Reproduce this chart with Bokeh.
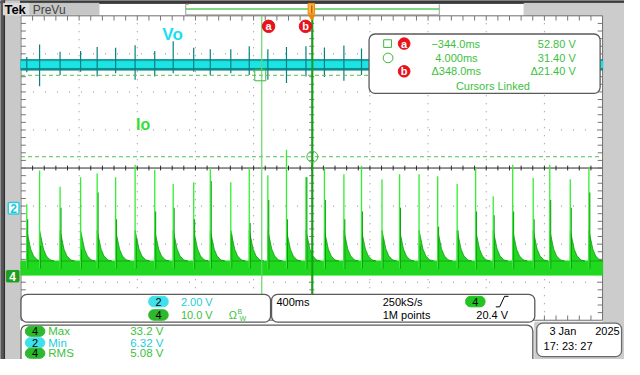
from bokeh.plotting import figure
from bokeh.models import Range1d, BoxAnnotation, Label
from bokeh.embed import file_html
from bokeh.resources import INLINE

# ---------------- values read from the screen ----------------
# channel 4 (Io, 10 V/div): spike times [ms], spike peaks [V], secondary (dark) peak [V]
spike_t_ms = [-1960, -1872, -1731, -1590, -1476, -1349, -1215, -1080, -953, -812,
              -698, -557, -430, -302, -174, -40, 87, 221, 342, 483,
              604, 738, 866, 1000, 1127, 1248, 1382, 1523, 1637, 1778, 1906]
io_peak_v = [18.9, 27.8, 23.5, 26.0, 27.0, 26.0, 29.3, 28.0, 24.2, 24.7,
             28.5, 24.7, 28.3, 26.5, 33.2, 26.0, 28.5, 26.8, 29.0, 25.5,
             26.8, 26.8, 26.3, 24.2, 28.5, 21.0, 29.3, 25.8, 29.3, 25.5, 28.5]
io_second_v = [15, 8, 18, 7, 22, 15, 10, 17, 18, 15,
               25, 11, 14, 20, 15, 26, 20, 15, 17, 10,
               18, 8, 13, 12, 17, 16, 17, 15, 20, 18, 22]
io_band_v = [0.3, 4.0]                    # noise band of Io between pulses
tail_dt_ms = [0, 9, 27, 47, 72, 100]      # decay after each pulse
tail_v = [12.0, 10.4, 7.1, 5.3, 4.3, 4.0]

# channel 2 (Vo, 2 V/div): band and spike extremes at the same instants
vo_band_v = [7.26, 7.81]
vo_core_v = [7.40, 7.73]
vo_spike_hi = [7.95, 8.60, 8.23, 8.27, 8.47, 8.43, 8.57, 8.27, 8.77, 8.43, 8.35,
               8.35, 8.52, 8.35, 8.47, 8.52, 8.45, 8.55, 8.40, 8.30, 8.50, 8.40,
               8.35, 8.45, 8.30, 8.50, 8.40, 8.35, 8.45, 8.40, 8.30]
vo_spike_lo = [7.15, 6.41, 7.00, 7.17, 6.92, 7.09, 6.75, 6.92, 7.09, 7.17, 7.00,
               7.09, 7.00, 6.75, 6.58, 6.92, 6.90, 6.70, 7.00, 6.90, 7.00, 6.85,
               6.95, 7.05, 6.90, 7.00, 6.80, 6.95, 7.00, 6.90, 6.95]

# cursors (linked, on channel 4)
cursor_t_ms = [-344.0, 4.0]
cursor_v = [52.80, 31.40]

# scope settings / readouts
time_per_div_ms = 400
ch2_v_per_div = 2.0
ch4_v_per_div = 10.0
readout_rows = [("\u2212344.0ms", "52.80 V"), ("4.000ms", "31.40 V"), ("\u0394348.0ms", "\u039421.40 V")]
meas_rows = [("4", "Max", "33.2 V"), ("2", "Min", "6.32 V"), ("4", "RMS", "5.08 V")]

# ---------------- screen geometry (pixels of the 640x375 screen) ----------------
GX0, GX1 = 21.0, 617.5
GY0, GY1 = 16.0, 334.0
DX = (GX1 - GX0) / 10.0
DY = (GY1 - GY0) / 8.0
XC = (GX0 + GX1) / 2.0
YC = (GY0 + GY1) / 2.0
CH2_GND, CH4_GND = 217.0, 288.0


def t_of(px):
    return (px - XC) / DX * time_per_div_ms


def v2_of(py):
    return (CH2_GND - py) / DY * ch2_v_per_div


def v4_of(py):
    return (CH4_GND - py) / DY * ch4_v_per_div


def d_of(py):
    return (YC - py) / DY


L, R, T, B = 0, 640, 0, 375
p = figure(width=624, height=359, x_range=Range1d(L, R), y_range=Range1d(B, T),
           output_backend="svg", toolbar_location=None, min_border=0,
           x_axis_type=None, y_axis_type=None)
p.outline_line_color = None
p.grid.visible = False
p.background_fill_color = "white"
p.border_fill_color = "white"
p.extra_x_ranges = {"t": Range1d(t_of(L), t_of(R))}
p.extra_y_ranges = {"ch2": Range1d(v2_of(B), v2_of(T)),
                    "ch4": Range1d(v4_of(B), v4_of(T)),
                    "div": Range1d(d_of(B), d_of(T))}

FONT = "Liberation Sans"
GREEN_TXT = "#3cbf3c"
CYAN_TXT = "#1ccbd8"
RED = "#e8121c"

# ---------------- chrome ----------------
p.quad(left=[0], right=[640], top=[0], bottom=[3], color="#3a3a3a")
p.quad(left=[0, 4, 5], right=[4, 5, 19.5], top=[0, 0, 0], bottom=[375, 375, 375],
       color=["#555555", "#1a1a1a", "#c9c9c9"])
p.quad(left=[3], right=[30], top=[3], bottom=[15], color="#dcdcdc")
p.quad(left=[30], right=[101], top=[3], bottom=[15], color="#c6c6c6")
p.quad(left=[537], right=[640], top=[3], bottom=[15.5], color="#cccccc")
p.quad(left=[GX1 + 0.5], right=[640], top=[15.5], bottom=[336], color="#cccccc")
p.quad(left=[548], right=[640], top=[336], bottom=[375], color="#cccccc")
# record view
p.segment(x0=[190], y0=[9], x1=[450], y1=[9], line_color="#55cc55", line_width=1.5)
p.segment(x0=[190, 450, 190, 190], y0=[4, 4, 4, 15], x1=[190, 450, 193, 450], y1=[15, 15, 4, 15],
          line_color="#9a9a9a", line_width=1)

# ---------------- graticule ----------------
tmin, tmax = -5 * time_per_div_ms, 5 * time_per_div_ms
vx = [tmin + k * time_per_div_ms for k in range(1, 10) if k != 5]
p.segment(x0=vx, y0=[-4] * len(vx), x1=vx, y1=[4] * len(vx), x_range_name="t", y_range_name="div",
          line_color="#8c8c8c", line_dash="1 7", line_width=1)
hy = [k for k in range(-3, 4) if k != 0]
p.segment(x0=[tmin] * len(hy), y0=hy, x1=[tmax] * len(hy), y1=hy, x_range_name="t", y_range_name="div",
          line_color="#8c8c8c", line_dash="1 11", line_width=1)
p.segment(x0=[tmin], y0=[0], x1=[tmax], y1=[0], x_range_name="t", y_range_name="div",
          line_color="#2a2a2a", line_width=1)
p.segment(x0=[0], y0=[-4], x1=[0], y1=[4], x_range_name="t", y_range_name="div",
          line_color="#9a9a9a", line_width=1)
tick_t = [tmin + k * time_per_div_ms / 5 for k in range(1, 50)]
tick_d = [-4 + k * 0.2 for k in range(1, 40)]
ht = 2.5 / DY      # tick half length in div
hx = 2.5 / DX * time_per_div_ms
p.segment(x0=tick_t, y0=[-ht] * len(tick_t), x1=tick_t, y1=[ht] * len(tick_t),
          x_range_name="t", y_range_name="div", line_color="#2a2a2a")
p.segment(x0=tick_t, y0=[4] * len(tick_t), x1=tick_t, y1=[4 - 2 * ht] * len(tick_t),
          x_range_name="t", y_range_name="div", line_color="#777777")
p.segment(x0=tick_t, y0=[-4] * len(tick_t), x1=tick_t, y1=[-4 + 2 * ht] * len(tick_t),
          x_range_name="t", y_range_name="div", line_color="#777777")
p.segment(x0=[-hx] * len(tick_d), y0=tick_d, x1=[hx] * len(tick_d), y1=tick_d,
          x_range_name="t", y_range_name="div", line_color="#777777")
p.segment(x0=[tmin] * len(tick_d), y0=tick_d, x1=[tmin + 2 * hx] * len(tick_d), y1=tick_d,
          x_range_name="t", y_range_name="div", line_color="#777777")
p.segment(x0=[tmax] * len(tick_d), y0=tick_d, x1=[tmax - 2 * hx] * len(tick_d), y1=tick_d,
          x_range_name="t", y_range_name="div", line_color="#777777")
p.quad(left=[tmin], right=[tmax], bottom=[-4], top=[4], x_range_name="t", y_range_name="div",
       fill_color=None, line_color="#6e6e6e", line_width=1)

# ---------------- channel 2 : Vo ----------------
p.quad(left=[tmin], right=[tmax], bottom=[vo_band_v[0]], top=[vo_band_v[1]],
       x_range_name="t", y_range_name="ch2", color="#0b8e8e")
p.quad(left=[tmin], right=[tmax], bottom=[vo_core_v[0]], top=[vo_core_v[1]],
       x_range_name="t", y_range_name="ch2", color="#1ee3e3")
p.segment(x0=spike_t_ms, y0=vo_spike_lo, x1=spike_t_ms, y1=vo_spike_hi,
          x_range_name="t", y_range_name="ch2", line_color="#0a7f7f", line_width=1.2)

# ---------------- channel 4 : Io ----------------
p.quad(left=[tmin], right=[tmax], bottom=[io_band_v[0]], top=[io_band_v[1]],
       x_range_name="t", y_range_name="ch4", color="#1fd81f")
xs, ys = [], []
for t0 in spike_t_ms:
    xs.append([t0] + [min(t0 + d, tmax) for d in tail_dt_ms] + [min(t0 + tail_dt_ms[-1], tmax)])
    ys.append([io_band_v[1]] + tail_v + [io_band_v[1]])
p.patches(xs=xs, ys=ys, x_range_name="t", y_range_name="ch4",
          fill_color="#22d822", line_color="#119a11", line_width=0.8)
base = [2.0] * len(spike_t_ms)
p.segment(x0=[t + 5 for t in spike_t_ms], y0=base, x1=[t + 5 for t in spike_t_ms], y1=io_second_v,
          x_range_name="t", y_range_name="ch4", line_color="#0b8a0b", line_width=1.4)
p.segment(x0=spike_t_ms, y0=base, x1=spike_t_ms, y1=io_peak_v,
          x_range_name="t", y_range_name="ch4", line_color="#33ee33", line_width=1.3)

# ---------------- cursors ----------------
p.segment(x0=[tmin, tmin], y0=cursor_v, x1=[tmax, tmax], y1=cursor_v,
          x_range_name="t", y_range_name="ch4", line_color="#4cc44c", line_dash="4 3", line_width=1)
p.segment(x0=[cursor_t_ms[0]], y0=[4], x1=[cursor_t_ms[0]], y1=[d_of(307)],
          x_range_name="t", y_range_name="div", line_color="#6ad86a", line_width=1.2)
p.segment(x0=[cursor_t_ms[1]], y0=[4], x1=[cursor_t_ms[1]], y1=[d_of(307)],
          x_range_name="t", y_range_name="div", line_color="#16a016", line_width=2)
p.scatter(x=[cursor_t_ms[0] - 1.5 / DX * time_per_div_ms], y=[cursor_v[0]], marker="square", size=11,
          x_range_name="t", y_range_name="ch4", fill_color=None, line_color="#3cb83c", line_width=1)
p.scatter(x=[cursor_t_ms[1]], y=[cursor_v[1]], marker="circle", size=11,
          x_range_name="t", y_range_name="ch4", fill_color=None, line_color="#3cb83c", line_width=1)
off = 7.0 / DX * time_per_div_ms
lab_t = [cursor_t_ms[0] + off, cursor_t_ms[1] - off]
p.scatter(x=lab_t, y=[d_of(27)] * 2, marker="circle", size=12.5, x_range_name="t", y_range_name="div",
          fill_color=RED, line_color=RED)
for tt, s in zip(lab_t, ["a", "b"]):
    p.add_layout(Label(x=tt, y=d_of(27), x_range_name="t", y_range_name="div", text=s,
                       text_align="center", text_baseline="middle", text_color="white",
                       text_font=FONT, text_font_size="11px", text_font_style="bold"))
# trigger position marker
p.quad(left=[t_of(315.5)], right=[t_of(322)], top=[d_of(3)], bottom=[d_of(14)],
       x_range_name="t", y_range_name="div", fill_color="#ffb347", line_color="#ee8800", line_width=1)
p.segment(x0=[0], y0=[d_of(5)], x1=[0], y1=[d_of(13)], x_range_name="t", y_range_name="div",
          line_color="#cc6600", line_width=1.5)
p.scatter(x=[0], y=[d_of(17)], marker="inverted_triangle", size=6, x_range_name="t", y_range_name="div",
          color="#ee8800")


def box(l, r, t, b, fill="white", line="#5a5a5a", radius=6, lw=1.3, falpha=1.0):
    p.add_layout(BoxAnnotation(left=l, right=r, top=t, bottom=b, fill_color=fill, fill_alpha=falpha,
                               line_color=line, line_alpha=1, line_width=lw, border_radius=radius))


def text(x, y, s, color="black", size="11px", align="left", style="normal"):
    p.add_layout(Label(x=x, y=y, text=s, text_align=align, text_baseline="middle", text_color=color,
                       text_font=FONT, text_font_size=size, text_font_style=style))


def pill(cx, cy, s, fill, color="black", w=20, h=11):
    box(cx - w / 2, cx + w / 2, cy - h / 2, cy + h / 2, fill=fill, line=fill, radius=5, lw=1)
    text(cx, cy, s, color=color, align="center")


# ground markers
box(8, 19, CH2_GND - 6, CH2_GND + 6, fill="white", line="#22cfe0", radius=1, lw=1.5)
text(13.5, CH2_GND, "2", color="#1cc8d8", size="12px", align="center", style="bold")
box(6, 19, CH4_GND - 6, CH4_GND + 6, fill="#1f9f1f", line="#1f9f1f", radius=1, lw=1)
text(12.5, CH4_GND, "4", color="white", size="12px", align="center", style="bold")

# channel names
text(166, 35, "Vo", color="#19e0ee", size="17px", style="bold")
text(139, 130, "Io", color="#35dd35", size="16px", style="bold")

# top bar texts
text(4, 9.5, "Tek", size="13px", style="bold")
text(33, 9.5, "PreVu", color="#444444", size="12px")

# cursor readout box
box(378, 615, 35, 97)
box(393, 401, 41, 49, fill="white", line="#3cb83c", radius=0, lw=1, falpha=0.0)
box(392.5, 402.5, 55, 65, fill="white", line="#3cb83c", radius=5, lw=1, falpha=0.0)
box(408, 420, 39, 51, fill=RED, line=RED, radius=6, lw=1)
box(408, 420, 68, 80, fill=RED, line=RED, radius=6, lw=1)
text(414, 45, "a", color="white", align="center", style="bold")
text(414, 74, "b", color="white", align="center", style="bold")
for (tt, vv), yy, xx in zip(readout_rows, [45, 60, 74], [442, 446, 442]):
    text(xx, yy, tt, color=GREEN_TXT)
    text(590, yy, vv, color=GREEN_TXT, align="right")
text(505, 89, "Cursors Linked", color=GREEN_TXT, align="center")

# channel scale box
box(21, 277, 307, 336)
pill(162, 314.5, "2", "#3fe0ea")
text(185, 315, "2.00 V", color=CYAN_TXT)
pill(162, 328.5, "4", "#2db82d")
text(185, 329, "10.0 V", color=GREEN_TXT)
text(234, 329, "\u03a9", color=GREEN_TXT)
text(243, 325, "B", color=GREEN_TXT, size="7px")
text(245, 332, "W", color=GREEN_TXT, size="7px")

# timebase / trigger box
box(278, 548, 307, 336)
text(283, 314.5, "400ms")
text(392, 314.5, "250kS/s")
pill(487, 314.5, "4", "#22c422")
p.line(x=[508, 512, 517, 521], y=[320, 320, 309, 309], line_color="black", line_width=1, level="overlay")
text(392, 329, "1M points")
text(488, 329, "20.4 V")

# measurement box
box(21, 546, 339, 392)
for (ch, nm, val), yy in zip(meas_rows, [345.5, 357.5, 368.5]):
    col = GREEN_TXT if ch == "4" else CYAN_TXT
    pill(35.5, yy, ch, "#2db82d" if ch == "4" else "#3fe0ea", h=10.5)
    text(49, yy, nm, color=col, size="11.5px")
    text(133, yy, val, color=col, size="11.5px")

# date box
box(550, 637, 337, 372, line="#6a6a6a")
text(563, 345, "3 Jan")
text(610, 345, "2025")
text(557, 361, "17: 23: 27")

open("out.html", "w").write(file_html(p, INLINE))
